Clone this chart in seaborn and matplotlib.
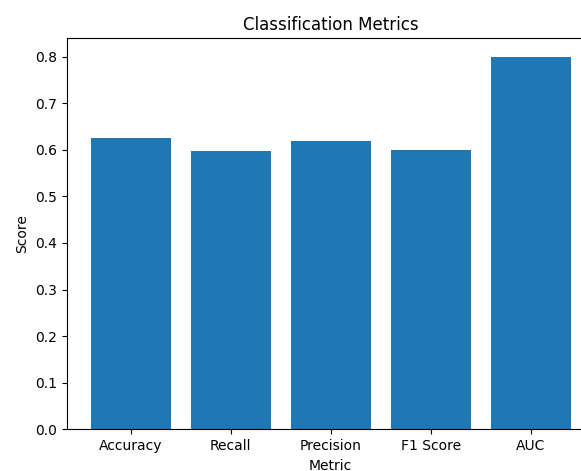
import matplotlib
matplotlib.use("Agg")
import matplotlib.pyplot as plt
import seaborn as sns
import pandas as pd

metrics = ["Accuracy", "Recall", "Precision", "F1 Score", "AUC"]
scores = [0.626, 0.597, 0.619, 0.599, 0.799]

df = pd.DataFrame({"Metric": metrics, "Score": scores})

fig = plt.figure(figsize=(5.81, 4.71), dpi=100)
ax = fig.add_axes([0.1148, 0.0885, 0.9088, 0.830])
sns.barplot(data=df, x="Metric", y="Score", color="#1f77b4", saturation=1,
            width=0.8, ax=ax)
ax.set_xlim(-0.64, 4.64)
ax.set_ylim(0, 0.8389)
ax.set_title("Classification Metrics")
ax.set_xlabel("Metric")
ax.set_ylabel("Score")
fig.savefig("out.png", dpi=100)
